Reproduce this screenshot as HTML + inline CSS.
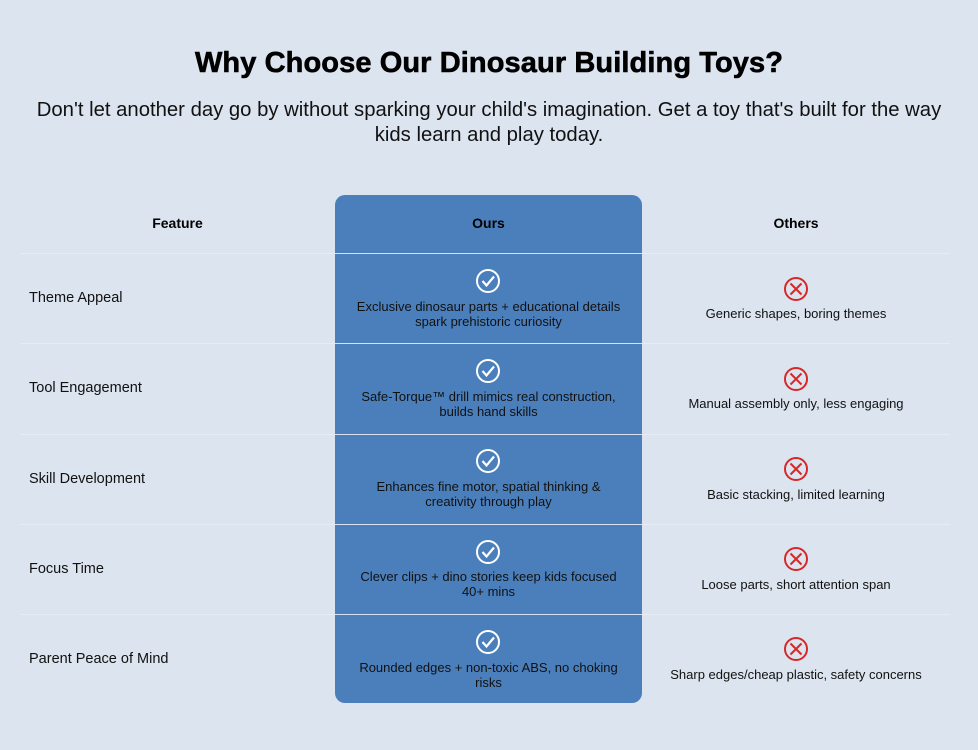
<!DOCTYPE html>
<html><head><style>
body{margin:0;width:978px;height:750px;background:#dce4ef;font-family:"Liberation Sans",sans-serif;color:#111;position:relative;overflow:hidden}
.a{position:absolute}
h1{position:absolute;top:47px;left:0;width:978px;margin:0;text-align:center;font-size:29px;font-weight:900;letter-spacing:0.1px;color:#000;-webkit-text-stroke:0.6px #000}
.sub{top:98px;left:0;width:978px;text-align:center;font-size:20.3px;line-height:25px;color:#111}
.blue{left:335px;top:195px;width:307px;height:508px;background:#4b7fbb;border-radius:10px}
.hd{top:215px;font-size:14px;font-weight:bold;text-align:center;color:#000}
.line{height:1px;background:#e6ecf3}
.wl{left:335px;width:307px;height:1px;background:#d6e2f0}
.feat{left:29px;font-size:14.5px}
.cell{text-align:center;font-size:13px;line-height:15px}
</style></head><body>
<h1>Why Choose Our Dinosaur Building Toys?</h1>
<div class="a sub">Don't let another day go by without sparking your child's imagination. Get a toy that's built for the way<br>kids learn and play today.</div>
<div class="a blue"></div>
<div class="a hd" style="left:20px;width:315px">Feature</div>
<div class="a hd" style="left:335px;width:307px">Ours</div>
<div class="a hd" style="left:642px;width:308px">Others</div>

<div class="a line" style="left:20px;width:930px;top:253px"></div>
<div class="a line" style="left:20px;width:930px;top:343px"></div>
<div class="a line" style="left:20px;width:930px;top:434px"></div>
<div class="a line" style="left:20px;width:930px;top:524px"></div>
<div class="a line" style="left:20px;width:930px;top:614px"></div>
<div class="a wl" style="top:253px"></div>
<div class="a wl" style="top:343px"></div>
<div class="a wl" style="top:434px"></div>
<div class="a wl" style="top:524px"></div>
<div class="a wl" style="top:614px"></div>

<svg class="a" style="left:0;top:0" width="978" height="750">
<defs>
<g id="ck"><circle cx="0" cy="0" r="11" fill="none" stroke="#fff" stroke-width="2"/><path d="M-5.5 0 L-1.5 4.5 L6 -4.5" fill="none" stroke="#fff" stroke-width="2.2"/></g>
<g id="x"><circle cx="0" cy="0" r="11" fill="none" stroke="#d62828" stroke-width="2"/><path d="M-5.5 -5.5L5.5 5.5M5.5 -5.5L-5.5 5.5" stroke="#d62828" stroke-width="2"/></g>
</defs>
<use href="#ck" x="488" y="281"/><use href="#ck" x="488" y="371"/><use href="#ck" x="488" y="461"/><use href="#ck" x="488" y="552"/><use href="#ck" x="488" y="642"/>
<use href="#x" x="796" y="289"/><use href="#x" x="796" y="379"/><use href="#x" x="796" y="469"/><use href="#x" x="796" y="559"/><use href="#x" x="796" y="649"/>
</svg>

<div class="a feat" style="top:290px">Theme Appeal</div>
<div class="a feat" style="top:380px">Tool Engagement</div>
<div class="a feat" style="top:471px">Skill Development</div>
<div class="a feat" style="top:561px">Focus Time</div>
<div class="a feat" style="top:651px">Parent Peace of Mind</div>

<div class="a cell" style="left:340px;width:297px;top:299px">Exclusive dinosaur parts + educational details<br>spark prehistoric curiosity</div>
<div class="a cell" style="left:340px;width:297px;top:389px">Safe-Torque™ drill mimics real construction,<br>builds hand skills</div>
<div class="a cell" style="left:340px;width:297px;top:479px">Enhances fine motor, spatial thinking &amp;<br>creativity through play</div>
<div class="a cell" style="left:340px;width:297px;top:569px">Clever clips + dino stories keep kids focused<br>40+ mins</div>
<div class="a cell" style="left:340px;width:297px;top:660px">Rounded edges + non-toxic ABS, no choking<br>risks</div>

<div class="a cell" style="left:642px;width:308px;top:306px">Generic shapes, boring themes</div>
<div class="a cell" style="left:642px;width:308px;top:396px">Manual assembly only, less engaging</div>
<div class="a cell" style="left:642px;width:308px;top:487px">Basic stacking, limited learning</div>
<div class="a cell" style="left:642px;width:308px;top:577px">Loose parts, short attention span</div>
<div class="a cell" style="left:642px;width:308px;top:667px">Sharp edges/cheap plastic, safety concerns</div>
</body></html>
